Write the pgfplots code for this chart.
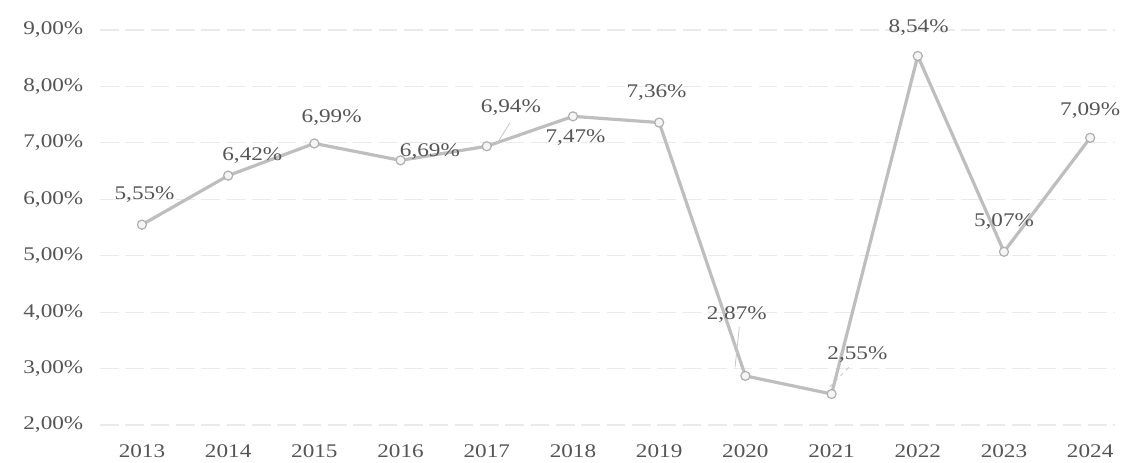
\documentclass[border=0pt]{standalone}
\usepackage{fontspec}
\setmainfont{Liberation Serif}[FakeStretch=1.2]
\usepackage{pgfplots}
\pgfplotsset{compat=1.18}
\definecolor{linegray}{RGB}{190,190,190}
\definecolor{markgray}{RGB}{175,175,175}
\definecolor{gridgray}{RGB}{234,234,234}
\definecolor{textgray}{RGB}{85,85,85}

\begin{document}
\begin{tikzpicture}
\begin{axis}[
    scale only axis,
    width=761.25pt, height=296.25pt,
    xmin=2012.513, xmax=2024.288,
    ymin=2, ymax=9,
    xtick={2013,2014,2015,2016,2017,2018,2019,2020,2021,2022,2023,2024},
    ytick={2,3,4,5,6,7,8,9},
    yticklabels={{2,00\%},{3,00\%},{4,00\%},{5,00\%},{6,00\%},{7,00\%},{8,00\%},{9,00\%}},
    x tick label style={/pgf/number format/1000 sep=, yshift=-11pt},
    y tick label style={xshift=-9pt},
    /pgf/number format/assume math mode=true,
    tick label style={font=\fontsize{14.5}{16}\selectfont, text=textgray},
    major tick length=0pt,
    axis line style={draw=none},
    ymajorgrids,
    grid style={gridgray, line width=0.8pt, dash pattern=on 14pt off 5pt},
    clip=false,
]

% growth rate
\addplot[color=linegray, line width=2.4pt, mark=*, mark size=3.4pt,
    mark options={fill=gray!8, draw=markgray, line width=0.9pt}]
    coordinates {(2013,5.55) (2014,6.42) (2015,6.99) (2016,6.69) (2017,6.94) (2018,7.47)
                 (2019,7.36) (2020,2.87) (2021,2.55) (2022,8.54) (2023,5.07) (2024,7.09)};

% leader lines
\draw[gray!45, line width=0.6pt] (axis cs:2017.27,7.36) -- (axis cs:2017.12,6.99);
\draw[gray!45, line width=0.6pt] (axis cs:2019.93,3.74) -- (axis cs:2019.88,3.02);
\draw[gray!45, line width=0.6pt, dashed] (axis cs:2021.2,3.02) -- (axis cs:2020.98,2.68);

% data labels
\begin{scope}[every node/.style={font=\fontsize{14.5}{16}\selectfont, text=textgray, inner sep=1pt}]
\node at (axis cs:2013.03,6.08) {5,55\%};
\node at (axis cs:2014.28,6.78) {6,42\%};
\node at (axis cs:2015.20,7.44) {6,99\%};
\node at (axis cs:2016.34,6.84) {6,69\%};
\node at (axis cs:2017.28,7.62) {6,94\%};
\node at (axis cs:2018.03,7.09) {7,47\%};
\node at (axis cs:2018.97,7.90) {7,36\%};
\node at (axis cs:2019.90,3.95) {2,87\%};
\node at (axis cs:2021.30,3.24) {2,55\%};
\node at (axis cs:2022.01,9.04) {8,54\%};
\node at (axis cs:2023.00,5.60) {5,07\%};
\node at (axis cs:2024.00,7.58) {7,09\%};
\end{scope}
\end{axis}
\pgfresetboundingbox
\path[use as bounding box] (-75pt,-27.75pt) rectangle (767.25pt,318.75pt);
\end{tikzpicture}
\end{document}
